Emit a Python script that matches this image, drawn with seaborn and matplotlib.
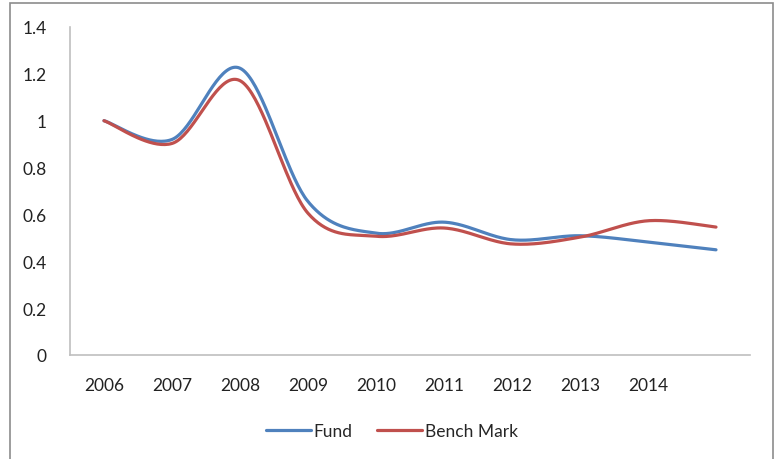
import numpy as np
import pandas as pd
import matplotlib
matplotlib.use('Agg')
import matplotlib.pyplot as plt
import seaborn as sns
from matplotlib.patches import Rectangle


# Chart data:

years = ['2006', '2007', '2008', '2009', '2010', '2011', '2012', '2013', '2014', '']
fund = [1.0, 0.92, 1.224, 0.655, 0.52, 0.567, 0.492, 0.509, 0.482, 0.449]
bench_mark = [1.0, 0.903, 1.171, 0.605, 0.507, 0.542, 0.474, 0.503, 0.573, 0.546]
y_ticks = [0, 0.2, 0.4, 0.6, 0.8, 1.0, 1.2, 1.4]
y_labels = ['0', '0.2', '0.4', '0.6', '0.8', '1', '1.2', '1.4']


# Excel style smoothing (Catmull-Rom / Bezier with 1/6 control points):

def smooth(values, steps=40):
    p = np.asarray(values, dtype=float)
    x = np.arange(len(p), dtype=float)
    xs, ys = [], []
    for i in range(len(p) - 1):
        i0 = max(i - 1, 0)
        i3 = min(i + 2, len(p) - 1)
        t = np.linspace(0, 1, steps, endpoint=False)
        c1x = x[i] + (x[i + 1] - x[i0]) / 6
        c2x = x[i + 1] - (x[i3] - x[i]) / 6
        c1y = p[i] + (p[i + 1] - p[i0]) / 6
        c2y = p[i + 1] - (p[i3] - p[i]) / 6
        b0, b1, b2, b3 = (1 - t) ** 3, 3 * t * (1 - t) ** 2, 3 * t ** 2 * (1 - t), t ** 3
        xs.append(b0 * x[i] + b1 * c1x + b2 * c2x + b3 * x[i + 1])
        ys.append(b0 * p[i] + b1 * c1y + b2 * c2y + b3 * p[i + 1])
    xs.append([x[-1]])
    ys.append([p[-1]])
    return np.concatenate(xs), np.concatenate(ys)


frames = []
for name, vals in [('Fund', fund), ('Bench Mark', bench_mark)]:
    sx, sy = smooth(vals)
    frames.append(pd.DataFrame({'pos': sx, 'value': sy, 'series': name}))
df = pd.concat(frames, ignore_index=True)


sns.set_style('white')
plt.rcParams['font.family'] = ['Lato', 'DejaVu Sans']

fig = plt.figure(figsize=(7.76, 4.6), dpi=100)
ax = fig.add_axes([70 / 776, 104 / 460, 680 / 776, 328 / 460])

sns.lineplot(data=df, x='pos', y='value', hue='series', sort=False,
             palette={'Fund': '#4F81BD', 'Bench Mark': '#C0504D'},
             linewidth=2.3, ax=ax)

ax.set_xlim(-0.5, len(years) - 0.5)
ax.set_ylim(0, 1.4)
ax.set_xticks(range(len(years)))
ax.set_xticklabels(years)
ax.set_yticks(y_ticks)
ax.set_yticklabels(y_labels)
ax.tick_params(length=0, labelsize=12.5, colors='#222222')
ax.tick_params(axis='x', pad=16)
ax.tick_params(axis='y', pad=17)
ax.set_xlabel('')
ax.set_ylabel('')

for side in ['top', 'right']:
    ax.spines[side].set_visible(False)
for side in ['left', 'bottom']:
    ax.spines[side].set_color('#BFBFBF')
    ax.spines[side].set_linewidth(1.2)

ax.legend(loc='upper center', bbox_to_anchor=(0.473, -0.16), ncol=2, frameon=False,
          fontsize=12.5, handlelength=2.6, handletextpad=0.15, columnspacing=1.4)

# outer chart border
fig.patches.append(Rectangle((10 / 776, -0.01), 763 / 776, 1 - 4 / 460 + 0.01,
                             transform=fig.transFigure, fill=False,
                             edgecolor='#8C8C8C', linewidth=1.2))

plt.savefig('out.png', dpi=100)
